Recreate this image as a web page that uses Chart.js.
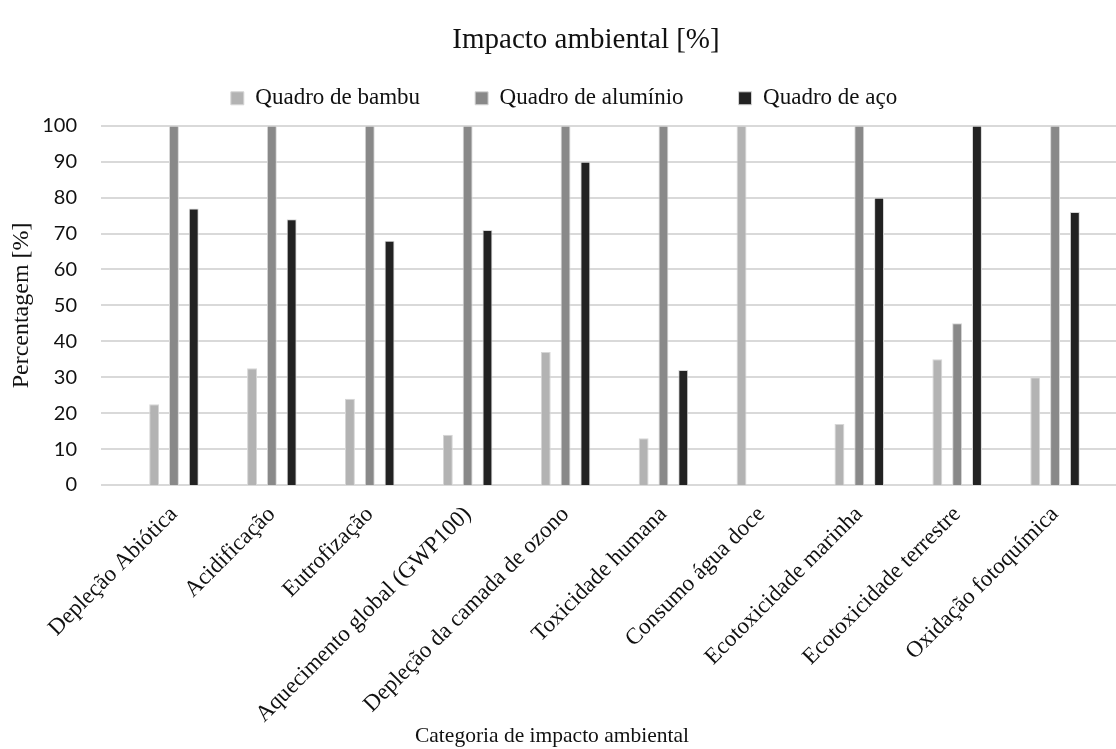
<!DOCTYPE html>
<html lang="pt">
<head>
<meta charset="UTF-8">
<title>Impacto ambiental [%]</title>
<script src="https://cdn.jsdelivr.net/npm/chart.js"></script>
<style>
    html, body { margin: 0; padding: 0; background: #ffffff; }
    .chart-box { position: relative; width: 1116px; height: 749px; }
</style>
</head>
<body>
<div class="chart-box">
    <canvas id="impactChart"></canvas>
</div>
<script>
    const categories = ['Depleção Abiótica', 'Acidificação', 'Eutrofização', 'Aquecimento global (GWP100)',
        'Depleção da camada de ozono', 'Toxicidade humana', 'Consumo água doce', 'Ecotoxicidade marinha',
        'Ecotoxicidade terrestre', 'Oxidação fotoquímica'];
    const bambu = [22.5, 32.5, 24, 14, 37, 13, 100, 17, 35, 30];
    const aluminio = [100, 100, 100, 100, 100, 100, 0, 100, 45, 100];
    const aco = [77, 74, 68, 71, 90, 32, 0, 80, 100, 76];

    const serif = "'Liberation Serif', 'Times New Roman', serif";

    // gridlines run a bit past the plot on both sides, like the Excel original
    const wideGrid = {
        id: 'wideGrid',
        beforeDatasetsDraw(chart) {
            const { ctx, chartArea, scales: { y } } = chart;
            ctx.save();
            ctx.strokeStyle = '#d9d9d9';
            ctx.lineWidth = 2;
            y.ticks.forEach(t => {
                const py = Math.round(y.getPixelForValue(t.value));
                ctx.beginPath();
                ctx.moveTo(chartArea.left - 24, py);
                ctx.lineTo(chart.width, py);
                ctx.stroke();
            });
            ctx.restore();
        }
    };

    // extra space under the legend, title and legend nudged right
    const tweaks = {
        id: 'tweaks',
        beforeInit(chart) {
            const fit = chart.legend.fit;
            chart.legend.fit = function () {
                fit.bind(chart.legend)();
                this.height += 6;
            };
        },
        afterLayout(chart) {
            chart.titleBlock.left += 34;
            chart.titleBlock.right += 34;
            chart.legend.left += 12;
            chart.legend.right += 12;
        }
    };

    new Chart(document.getElementById('impactChart').getContext('2d'), {
        type: 'bar',
        data: {
            labels: categories,
            datasets: [
                { label: 'Quadro de bambu', data: bambu, backgroundColor: '#b3b3b3' },
                { label: 'Quadro de alumínio', data: aluminio, backgroundColor: '#898989' },
                { label: 'Quadro de aço', data: aco, backgroundColor: '#222222' }
            ]
        },
        options: {
            responsive: true,
            maintainAspectRatio: false,
            animation: false,
            datasets: {
                bar: {
                    categoryPercentage: 0.607,
                    barPercentage: 0.5,
                    borderColor: '#d6d6d6',
                    borderWidth: 1
                }
            },
            layout: { padding: { left: 0, right: 12, top: 0, bottom: 0 } },
            plugins: {
                title: {
                    display: true,
                    text: 'Impacto ambiental [%]',
                    color: '#111',
                    font: { family: serif, size: 29, weight: 'normal' },
                    padding: { top: 23, bottom: -26 }
                },
                // axis title sits over the bottom of the tick area (zero-height box)
                subtitle: {
                    display: true,
                    text: 'Categoria de impacto ambiental',
                    position: 'bottom',
                    color: '#111',
                    font: { family: serif, size: 21.5, weight: 'normal', lineHeight: 1.2 },
                    padding: { top: -25.8, bottom: 0 }
                },
                legend: {
                    position: 'top',
                    labels: {
                        color: '#111',
                        font: { family: serif, size: 23 },
                        boxWidth: 13,
                        boxHeight: 13,
                        padding: 55
                    }
                },
                tooltip: { enabled: false }
            },
            scales: {
                x: {
                    grid: { display: false, drawTicks: false },
                    border: { display: false },
                    ticks: {
                        color: '#111',
                        font: { family: serif, size: 23 },
                        minRotation: 45,
                        maxRotation: 45,
                        autoSkip: false,
                        padding: 16
                    },
                    afterFit(scale) { scale.height = 264; }
                },
                y: {
                    min: 0,
                    max: 100,
                    grid: { display: false, drawTicks: false },
                    border: { display: false },
                    ticks: {
                        stepSize: 10,
                        color: '#111',
                        font: { family: "Lato, 'Open Sans', sans-serif", size: 20 },
                        padding: 48
                    },
                    title: {
                        display: true,
                        text: 'Percentagem [%]',
                        color: '#111',
                        font: { family: serif, size: 24 },
                        padding: { top: 7, bottom: 0 }
                    },
                    afterFit(scale) { scale.width = 125; }
                }
            }
        },
        plugins: [wideGrid, tweaks]
    });
</script>
</body>
</html>
